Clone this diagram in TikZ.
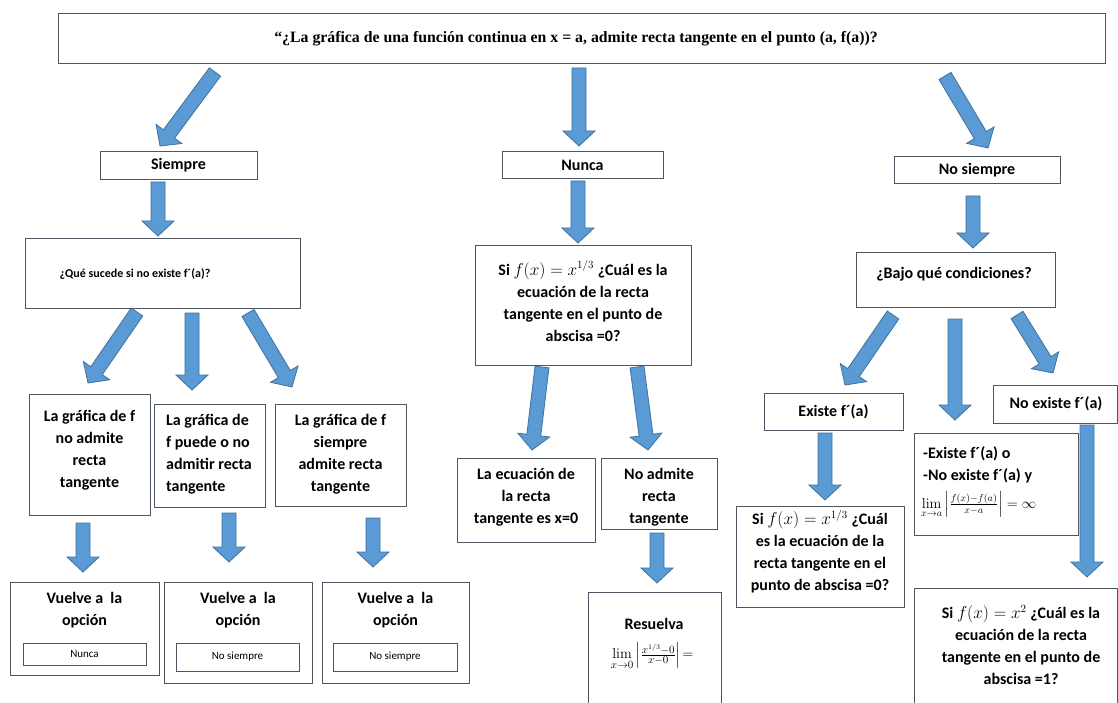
\documentclass[tikz,border=0pt]{standalone}
\usepackage{amsmath}
\usepackage[no-math]{fontspec}
\setmainfont{Carlito}
\newfontfamily\timesfont{Liberation Serif}
\usepackage{tikz}
\usetikzlibrary{calc,positioning}
\pgfdeclarelayer{bglayer}
\pgfdeclarelayer{edgelayer}
\pgfdeclarelayer{nodelayer}
\pgfsetlayers{bglayer,edgelayer,nodelayer,main}
\definecolor{arrowblue}{RGB}{91,155,213}
\definecolor{arrowedge}{RGB}{65,113,156}
\definecolor{boxline}{RGB}{78,86,98}
\tikzstyle{none}=[inner sep=0pt,outer sep=0pt]
\tikzstyle{box}=[rectangle,draw=boxline,fill=white,line width=0.9pt,inner sep=0pt]
\tikzstyle{optbox}=[rectangle,draw=boxline,fill=white,line width=0.9pt,inner sep=0pt,font=\fontsize{11}{13}\selectfont]
\tikzstyle{txt}=[inner sep=0pt,align=center,font=\bfseries\fontsize{16}{22}\selectfont]
\tikzstyle{toptxt}=[inner sep=0pt,font=\timesfont\bfseries\fontsize{15.8}{18}\selectfont]
\tikzstyle{blockarrow}=[fill=arrowblue,draw=arrowedge,line width=0.8pt,line join=miter]
% flecha de bloque entre dos nodos
\newcommand{\blockarrow}[2]{%
  \path [style=blockarrow] let \p1=($(#2.center)-(#1.center)$), \n1={atan2(\y1,\x1)} in
    ($(#1.center)+(\n1+90:7pt)$)
    -- ($(#2.center)+(\n1+180:15pt)+(\n1+90:7pt)$)
    -- ($(#2.center)+(\n1+180:15pt)+(\n1+90:16pt)$)
    -- (#2.center)
    -- ($(#2.center)+(\n1+180:15pt)+(\n1-90:16pt)$)
    -- ($(#2.center)+(\n1+180:15pt)+(\n1-90:7pt)$)
    -- ($(#1.center)+(\n1-90:7pt)$) -- cycle;}

\begin{document}
\begin{tikzpicture}[x=1pt,y=-1pt]
	\useasboundingbox (0,0) rectangle (1118,703);
	\begin{pgfonlayer}{bglayer}
		\fill [white] (0,0) rectangle (1118,703);
	\end{pgfonlayer}
	\begin{pgfonlayer}{nodelayer}
		% pregunta inicial
		\node [style=box, minimum width=1047pt, minimum height=50pt] (question) at (581.5,38) {};
		\node [style=toptxt] (questiontxt) at (576,39) {“¿La gráfica de una función continua en x = a, admite recta tangente en el punto (a, f(a))?};
		% respuestas
		\node [style=box, minimum width=157pt, minimum height=28pt] (siempre) at (178.5,165) {};
		\node [style=txt] (siempretxt) at (178.5,165) {Siempre};
		\node [style=box, minimum width=161pt, minimum height=27pt] (nunca) at (582.5,164.5) {};
		\node [style=txt] (nuncatxt) at (582.5,165) {Nunca};
		\node [style=box, minimum width=166pt, minimum height=27pt] (nosiempre) at (977,169.5) {};
		\node [style=txt] (nosiempretxt) at (977,170) {No siempre};
		% rama siempre
		\node [style=box, minimum width=275pt, minimum height=70pt] (sucede) at (162.5,273) {};
		\node [style=txt, font=\bfseries\fontsize{12}{14}\selectfont] (sucedetxt) at (135,274) {¿Qué sucede si no existe f´(a)?};
		\node [style=box, minimum width=121pt, minimum height=121pt] (noadmite) at (89.5,454.5) {};
		\node [style=txt] (noadmitetxt) at (89.5,450) {La gráfica de f\\no admite\\recta\\tangente};
		\node [style=box, minimum width=111pt, minimum height=103pt] (puede) at (209.5,455.5) {};
		\node [style=txt, align=left, anchor=west] (puedetxt) at (166,454) {La gráfica de\\f puede o no\\admitir recta\\tangente};
		\node [style=box, minimum width=131pt, minimum height=102pt] (admite) at (340.5,455) {};
		\node [style=txt] (admitetxt) at (340.5,454) {La gráfica de f\\siempre\\admite recta\\tangente};
		\node [style=box, minimum width=149pt, minimum height=93pt] (vuelveA) at (84.5,628.5) {};
		\node [style=txt] (vuelveAtxt) at (84.5,610) {Vuelve a\ \ la\\opción};
		\node [style=optbox, minimum width=123pt, minimum height=22pt] (optA) at (84.5,654) {Nunca};
		\node [style=box, minimum width=148pt, minimum height=101pt] (vuelveB) at (238,632.5) {};
		\node [style=txt] (vuelveBtxt) at (238,610) {Vuelve a\ \ la\\opción};
		\node [style=optbox, minimum width=123pt, minimum height=28pt] (optB) at (237.5,657) {No siempre};
		\node [style=box, minimum width=147pt, minimum height=101pt] (vuelveC) at (395.5,632.5) {};
		\node [style=txt] (vuelveCtxt) at (395.5,610) {Vuelve a\ \ la\\opción};
		\node [style=optbox, minimum width=124pt, minimum height=28pt] (optC) at (395,657) {No siempre};
		% rama nunca
		\node [style=box, minimum width=216pt, minimum height=120pt] (ejemplo) at (583,305) {};
		\node [style=txt] (ejemplotxt) at (583,301) {Si $f(x) = x^{1/3}$ ¿Cuál es la\\ecuación de la recta\\tangente en el punto de\\abscisa =0?};
		\node [style=box, minimum width=138pt, minimum height=84pt] (vertical) at (526,500) {};
		\node [style=txt] (verticaltxt) at (526,497) {La ecuación de\\la recta\\tangente es x=0};
		\node [style=box, minimum width=116pt, minimum height=71pt] (noadm) at (659,493.5) {};
		\node [style=txt] (noadmtxt) at (659,497) {No admite\\recta\\tangente};
		\node [style=box, minimum width=133pt, minimum height=114pt] (resuelva) at (654.5,649) {};
		\node [style=txt] (resuelvatxt) at (654,624) {Resuelva};
		\node [style=txt, font=\fontsize{15}{17}\selectfont] (limtxt) at (652,656) {$\lim\limits_{x\to0}\left|\frac{x^{1/3}-0}{x-0}\right|\!=$};
		% rama no siempre
		\node [style=box, minimum width=199pt, minimum height=55pt] (bajo) at (955.5,279.5) {};
		\node [style=txt] (bajotxt) at (954,274) {¿Bajo qué condiciones?};
		\node [style=box, minimum width=139pt, minimum height=37pt] (existe) at (833.5,411.5) {};
		\node [style=txt] (existetxt) at (833.5,412) {Existe f´(a)};
		\node [style=box, minimum width=124pt, minimum height=38pt] (noexiste) at (1055,404) {};
		\node [style=txt] (noexistetxt) at (1056,404) {No existe f´(a)};
		\node [style=box, minimum width=168pt, minimum height=101pt] (raiz) at (820,556.5) {};
		\node [style=txt] (raiztxt) at (820,552) {Si $f(x) = x^{1/3}$ ¿Cuál\\es la ecuación de la\\recta tangente en el\\punto de abscisa =0?};
		\node [style=box, minimum width=164pt, minimum height=102pt] (condicion) at (996,484) {};
		\node [style=txt, align=left, anchor=west] (condiciontxt) at (923,465) {-Existe f´(a) o\\-No existe f´(a) y};
		\node [style=txt, anchor=west, font=\fontsize{14}{16}\selectfont] (condlimtxt) at (921,505) {$\lim\limits_{x\to a}\left|\frac{f(x)-f(a)}{x-a}\right| = \infty$};
		\node [style=box, minimum width=203pt, minimum height=118pt] (cuadrado) at (1015.5,647) {};
		\node [style=txt] (cuadradotxt) at (1021,645) {Si $f(x) = x^2$ ¿Cuál es la\\ecuación de la recta\\tangente en el punto de\\abscisa =1?};
		% extremos de las flechas
		\node [style=none] (sTopL) at (215,72) {};
		\node [style=none] (eTopL) at (160,146) {};
		\node [style=none] (sTopM) at (579,68) {};
		\node [style=none] (eTopM) at (579,146) {};
		\node [style=none] (sTopR) at (945,76) {};
		\node [style=none] (eTopR) at (988,148) {};
		\node [style=none] (sSiem) at (158,182) {};
		\node [style=none] (eSiem) at (158,236) {};
		\node [style=none] (sNunc) at (578,181) {};
		\node [style=none] (eNunc) at (578,243) {};
		\node [style=none] (sNoSi) at (973,196) {};
		\node [style=none] (eNoSi) at (973,248) {};
		\node [style=none] (sSucL) at (137,312) {};
		\node [style=none] (eSucL) at (88,383) {};
		\node [style=none] (sSucM) at (192,313) {};
		\node [style=none] (eSucM) at (192,390) {};
		\node [style=none] (sSucR) at (248,313) {};
		\node [style=none] (eSucR) at (292,387) {};
		\node [style=none] (sVuA) at (83,523) {};
		\node [style=none] (eVuA) at (83,572) {};
		\node [style=none] (sVuB) at (229,513) {};
		\node [style=none] (eVuB) at (229,562) {};
		\node [style=none] (sVuC) at (373,518) {};
		\node [style=none] (eVuC) at (373,567) {};
		\node [style=none] (sEjL) at (542,367) {};
		\node [style=none] (eEjL) at (532,450) {};
		\node [style=none] (sEjR) at (637,367) {};
		\node [style=none] (eEjR) at (648,450) {};
		\node [style=none] (sRes) at (657,533) {};
		\node [style=none] (eRes) at (657,583) {};
		\node [style=none] (sBajL) at (893,315) {};
		\node [style=none] (eBajL) at (845,385) {};
		\node [style=none] (sBajM) at (955,319) {};
		\node [style=none] (eBajM) at (955,420) {};
		\node [style=none] (sBajR) at (1017,315) {};
		\node [style=none] (eBajR) at (1053,373) {};
		\node [style=none] (sExi) at (825,433) {};
		\node [style=none] (eExi) at (825,500) {};
		\node [style=none] (sNoEx) at (1087,425) {};
		\node [style=none] (eNoEx) at (1087,577) {};
	\end{pgfonlayer}
	\begin{pgfonlayer}{edgelayer}
		\blockarrow{sTopL}{eTopL}
		\blockarrow{sTopM}{eTopM}
		\blockarrow{sTopR}{eTopR}
		\blockarrow{sSiem}{eSiem}
		\blockarrow{sNunc}{eNunc}
		\blockarrow{sNoSi}{eNoSi}
		\blockarrow{sSucL}{eSucL}
		\blockarrow{sSucM}{eSucM}
		\blockarrow{sSucR}{eSucR}
		\blockarrow{sVuA}{eVuA}
		\blockarrow{sVuB}{eVuB}
		\blockarrow{sVuC}{eVuC}
		\blockarrow{sEjL}{eEjL}
		\blockarrow{sEjR}{eEjR}
		\blockarrow{sRes}{eRes}
		\blockarrow{sBajL}{eBajL}
		\blockarrow{sBajM}{eBajM}
		\blockarrow{sBajR}{eBajR}
		\blockarrow{sExi}{eExi}
		\blockarrow{sNoEx}{eNoEx}
	\end{pgfonlayer}
\end{tikzpicture}
\end{document}
